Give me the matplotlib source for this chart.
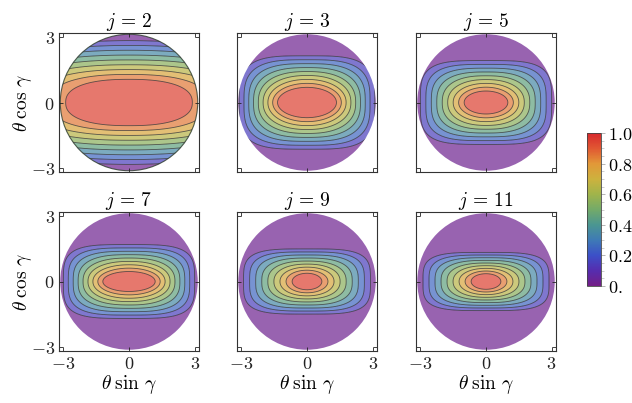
import numpy as np
import matplotlib
matplotlib.use("Agg")
import matplotlib.pyplot as plt
from matplotlib.colors import LinearSegmentedColormap, Normalize
from matplotlib.patches import Circle
from matplotlib.cm import ScalarMappable

plt.rcParams["mathtext.fontset"] = "cm"
plt.rcParams["font.family"] = "DejaVu Serif"

# ---------------- data ----------------
j_values = [2, 3, 5, 7, 9, 11]
# half extents of the outermost (0.1) contour, x and y
outer_x = [9.00, 3.10, 3.00, 3.00, 2.90, 2.88]
outer_y = [2.85, 2.15, 1.93, 1.70, 1.50, 1.34]
# half extents of the innermost (0.9) contour, x and y
inner_x = [2.90, 1.35, 1.00, 1.20, 0.68, 0.68]
inner_y = [1.07, 0.70, 0.53, 0.46, 0.38, 0.36]
# squareness of the 0.9 and 0.1 contours (superellipse exponents)
shape_inner = [2.4, 2.0, 2.0, 2.0, 2.0, 2.0]
shape_outer = [2.0, 3.6, 3.8, 3.8, 3.8, 3.8]
contour_levels = [0.1, 0.2, 0.3, 0.4, 0.5, 0.6, 0.7, 0.8, 0.9]
cbar_ticks = [0.0, 0.2, 0.4, 0.6, 0.8, 1.0]
cbar_labels = ["0.", "0.2", "0.4", "0.6", "0.8", "1.0"]
axis_ticks = [-3, 0, 3]
axis_ticklabels = ["$-3$", "$0$", "$3$"]

rainbow_pos = [0.0, 0.1, 0.2, 0.3, 0.4, 0.5, 0.6, 0.7, 0.8, 0.9, 1.0]
rainbow_rgb = [(115, 30, 135), (85, 45, 175), (60, 80, 200), (62, 122, 182),
               (75, 150, 145), (115, 170, 105), (160, 180, 75), (205, 178, 62),
               (226, 152, 56), (225, 88, 50), (215, 40, 45)]
cmap = LinearSegmentedColormap.from_list(
    "mma_rainbow",
    [(p, tuple(c / 255 for c in rgb)) for p, rgb in zip(rainbow_pos, rainbow_rgb)])

LO = contour_levels[0]
HI = contour_levels[-1]


def half_axis(c, outer, inner):
    if c <= HI:
        return inner + (outer - inner) * (HI - c) / (HI - LO)
    return inner * np.sqrt((1 - c) / (1 - HI))


def exponent(c, k):
    if c >= HI:
        return shape_inner[k]
    w = min((HI - c) / (HI - LO), 1.2)
    return shape_inner[k] + (shape_outer[k] - shape_inner[k]) * w ** 2


def field(x, y, k):
    """Value whose level sets are the nested superellipses described above."""
    cs = np.linspace(0.0, 0.998, 300)
    F = np.zeros_like(x)
    prev_r = None
    ax_, ay_ = np.abs(x), np.abs(y)
    for c in cs:
        A = half_axis(c, outer_x[k], inner_x[k])
        B = half_axis(c, outer_y[k], inner_y[k])
        m = exponent(c, k)
        r = ((ax_ / A) ** m + (ay_ / B) ** m) ** (1 / m)
        if prev_r is not None:
            hit = (prev_r <= 1) & (r > 1)
            frac = (1 - prev_r[hit]) / (r[hit] - prev_r[hit])
            F[hit] = prev_c + frac * (c - prev_c)
            F[(r <= 1)] = c
        prev_r, prev_c = r, c
    return F


# ---------------- figure ----------------
W, H = 632, 403
fig = plt.figure(figsize=(W / 100, H / 100), dpi=100)

col_left = [59, 237, 416]
row_top = [33, 212]
aw, ah = 140, 139
lim = 3.2

g = np.linspace(-lim, lim, 500)
XX, YY = np.meshgrid(g, g)

band_levels = [-1.0] + contour_levels + [1.01]
band_colors = []
for i in range(len(band_levels) - 1):
    lo = max(band_levels[i], 0.0)
    hi = min(band_levels[i + 1], 1.0)
    c = cmap(0.5 * (lo + hi)) if i > 0 else cmap(0.02)
    band_colors.append((c[0], c[1], c[2], 0.70))

for k, j in enumerate(j_values):
    r, c = divmod(k, 3)
    left = col_left[c] / W
    bottom = 1 - (row_top[r] + ah) / H
    ax = fig.add_axes([left, bottom, aw / W, ah / H])
    F = field(XX, YY, k)
    disk = Circle((0, 0), np.pi, transform=ax.transData, facecolor="none", edgecolor="none")
    ax.add_patch(disk)
    cf = ax.contourf(XX, YY, F, levels=band_levels, colors=band_colors, antialiased=True)
    cf.set_clip_path(disk)
    cl = ax.contour(XX, YY, F, levels=contour_levels, colors="#2a2a2a", linewidths=0.6, alpha=0.75)
    cl.set_clip_path(disk)
    if j == 2:
        ax.add_patch(Circle((0, 0), np.pi, facecolor="none", edgecolor="#2a3a2a", lw=0.8, alpha=0.8))
    ax.set_xlim(-lim, lim)
    ax.set_ylim(-lim, lim)
    ax.set_aspect("auto")
    ax.set_xticks(axis_ticks)
    ax.set_yticks(axis_ticks)
    ax.tick_params(direction="in", length=3, width=0.6, top=True, right=True,
                   labelsize=13, pad=3, colors="#222222")
    if r == 1:
        ax.set_xticklabels(axis_ticklabels)
    else:
        ax.set_xticklabels([])
    if c == 0:
        ax.set_yticklabels(axis_ticklabels)
    else:
        ax.set_yticklabels([])
    for sp in ax.spines.values():
        sp.set_linewidth(0.8)
        sp.set_color("#333333")
    ax.set_title(r"$j\, =\, %d$" % j, fontsize=14, pad=4)

# axis labels
for r in range(2):
    yc = 1 - (row_top[r] + ah / 2) / H
    fig.text(22 / W, yc, r"$\theta\;\cos\,\gamma$", rotation=90, ha="center", va="center", fontsize=14)
for c in range(3):
    xc = (col_left[c] + aw / 2) / W
    fig.text(xc, 1 - 384 / H, r"$\theta\;\sin\,\gamma$", ha="center", va="center", fontsize=14)

# colorbar
cax = fig.add_axes([587 / W, 1 - 286 / H, 14 / W, 153 / H])
sm = ScalarMappable(norm=Normalize(0, 1), cmap=cmap)
cb = fig.colorbar(sm, cax=cax)
cb.set_ticks(cbar_ticks)
cb.set_ticklabels(["$%s$" % s for s in cbar_labels])
cb.ax.yaxis.set_minor_locator(matplotlib.ticker.MultipleLocator(0.05))
cb.ax.tick_params(which="major", direction="out", length=3, width=0.6, color="#aaaaaa",
                  labelsize=13, pad=2)
cb.ax.tick_params(which="minor", direction="out", length=2, width=0.5, color="#bbbbbb")
cb.outline.set_linewidth(0.6)
cb.outline.set_edgecolor("#444444")

fig.savefig("out.png", dpi=100)
